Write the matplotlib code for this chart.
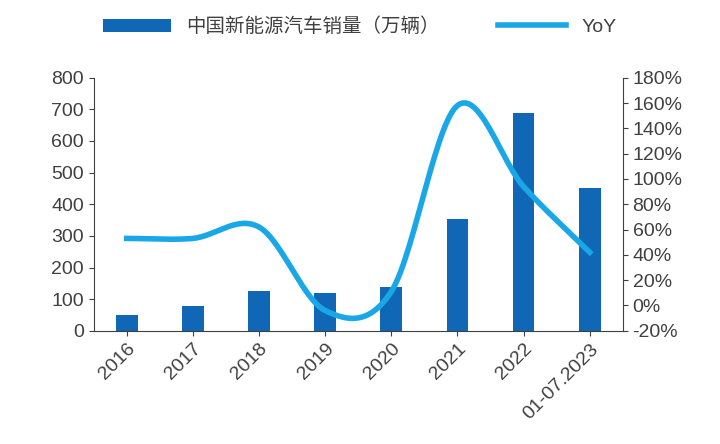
import numpy as np
import matplotlib.pyplot as plt
from matplotlib.ticker import FuncFormatter

plt.rcParams['font.family'] = ['Liberation Sans', 'Noto Sans CJK SC', 'DejaVu Sans']

years = ['2016', '2017', '2018', '2019', '2020', '2021', '2022', '01-07.2023']
sales = [51, 78, 125, 121, 137, 352, 688, 452]
yoy = [53, 53, 62, -4, 11, 158, 94, 42]

bar_color = '#1067B5'
line_color = '#1AA7E8'


def smooth(x, y, n=30):
    # Catmull-Rom style curve through the points, like Excel's smoothed line
    x = np.asarray(x, float)
    y = np.asarray(y, float)
    px = np.concatenate([[2 * x[0] - x[1]], x, [2 * x[-1] - x[-2]]])
    py = np.concatenate([[2 * y[0] - y[1]], y, [2 * y[-1] - y[-2]]])
    xs, ys = [], []
    for i in range(1, len(px) - 2):
        t = np.linspace(0, 1, n)
        for p, out in ((px, xs), (py, ys)):
            p0, p1, p2, p3 = p[i - 1], p[i], p[i + 1], p[i + 2]
            out.extend(0.5 * (2 * p1 + (-p0 + p2) * t + (2 * p0 - 5 * p1 + 4 * p2 - p3) * t ** 2
                              + (-p0 + 3 * p1 - 3 * p2 + p3) * t ** 3))
    return np.array(xs), np.array(ys)


fig, ax = plt.subplots(figsize=(7.2, 4.44), dpi=100)
fig.subplots_adjust(left=0.13, right=0.865, top=0.825, bottom=0.255)
x = np.arange(len(years))
bars = ax.bar(x, sales, width=0.33, color=bar_color)
ax.set_ylim(0, 800)
ax.set_yticks(range(0, 801, 100))
ax.set_xlim(-0.5, len(years) - 0.5)
ax.set_xticks(x)
ax.set_xticklabels(years, rotation=45, ha='right', rotation_mode='anchor')

ax2 = ax.twinx()
sx, sy = smooth(x, yoy)
line, = ax2.plot(sx, sy, color=line_color, lw=4)
ax2.set_ylim(-20, 180)
ax2.set_yticks(range(-20, 181, 20))
ax2.yaxis.set_major_formatter(FuncFormatter(lambda v, p: f'{v:.0f}%'))

for a in (ax, ax2):
    for s in ('top', 'right', 'left', 'bottom'):
        a.spines[s].set_visible(False)
    a.tick_params(labelsize=14, color='#404040', labelcolor='#404040')
ax.spines['left'].set_visible(True)
ax.spines['bottom'].set_visible(True)
ax2.spines['right'].set_visible(True)
for s in (ax.spines['left'], ax.spines['bottom'], ax2.spines['right']):
    s.set_color('#404040')

fig.legend([bars, line], ['中国新能源汽车销量（万辆）', 'YoY'], loc='upper center',
           bbox_to_anchor=(0.5, 1.0), ncol=2, frameon=False, fontsize=14,
           handlelength=3.5, columnspacing=3, labelcolor='#404040')
fig.savefig('out.png', dpi=100)
